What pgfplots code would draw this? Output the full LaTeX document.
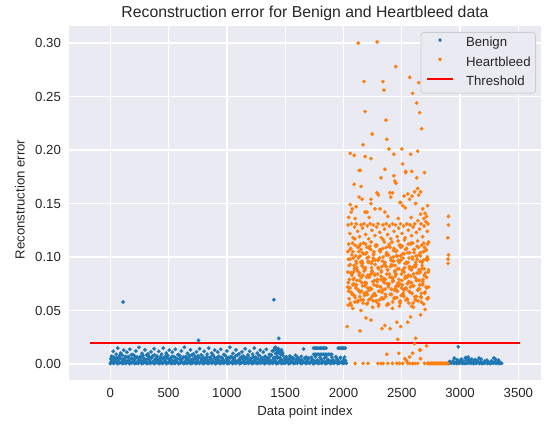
\documentclass[border=0pt]{standalone}
\usepackage{fontspec}
\setmainfont{Liberation Sans}
\usepackage{pgfplots}
\pgfplotsset{compat=1.18}
\definecolor{sbblue}{HTML}{1F77B4}
\definecolor{sborange}{HTML}{FF7F0E}
\definecolor{axbg}{HTML}{EAEAF2}
\definecolor{textgray}{HTML}{262626}
\definecolor{legedge}{HTML}{CCCCD0}
\begin{document}
\begin{tikzpicture}
\useasboundingbox (-69pt,-46pt) rectangle (479pt,380pt);
\begin{axis}[
  at={(0,0)}, anchor=south west, scale only axis,
  width=472pt, height=354pt,
  xmin=-354, xmax=3694, ymin=-0.015, ymax=0.316,
  axis background/.style={fill=axbg},
  axis line style={draw=none},
  grid=major, grid style={white, line width=1.3pt},
  major tick length=0pt,
  xtick={0,500,1000,1500,2000,2500,3000,3500},
  ytick={0,0.05,0.10,0.15,0.20,0.25,0.30},
  scaled x ticks=false, scaled y ticks=false,
  /pgf/number format/assume math mode=true,
  /pgf/number format/1000 sep={},
  tick label style={font=\fontsize{13.2}{15}\selectfont, text=textgray},
  xticklabel style={yshift=-4.6pt},
  yticklabel style={xshift=-4.6pt, /pgf/number format/fixed, /pgf/number format/fixed zerofill, /pgf/number format/precision=2},
  label style={font=\fontsize{13.2}{15}\selectfont, text=textgray},
  xlabel={Data point index},
  ylabel={Reconstruction error},
  xlabel style={at={(axis description cs:0.5,-0.09)}, anchor=center},
  ylabel style={at={(axis description cs:-0.104,0.51)}, anchor=center},
  title={Reconstruction error for Benign and Heartbleed data},
  title style={at={(axis description cs:0.5,1)}, anchor=base, yshift=2pt, font=\fontsize{15.8}{18}\selectfont, text=textgray},
  legend cell align=left,
  legend style={at={(rel axis cs:1,1)}, anchor=north east, xshift=-5pt, yshift=-6pt,
    draw=legedge, line width=0.8pt, fill=axbg, rounded corners=3pt,
    font=\fontsize{13.2}{15}\selectfont, text=textgray,
    row sep=7pt, column sep=12pt, inner xsep=5pt, inner ysep=5pt,
    nodes={inner sep=0pt, text height=9.5pt, text depth=2.8pt}},
]
% Benign
\addplot[only marks, mark=*, mark size=1.7pt, color=sbblue,
  legend image code/.code={\fill[sbblue] (13pt,3.5pt) circle (1.4pt);}] coordinates {
(0,.0004)(15,.0011)(30,.0006)(45,.0016)(60,.0003)(75,.0009)(90,.0013)
(105,.0004)(120,.0011)(135,.0006)(150,.0016)(165,.0003)(180,.0009)(195,.0013)
(210,.0004)(225,.0011)(240,.0006)(255,.0016)(270,.0003)(285,.0009)(300,.0013)
(315,.0004)(330,.0011)(345,.0006)(360,.0016)(375,.0003)(390,.0009)(405,.0013)
(420,.0004)(435,.0011)(450,.0006)(465,.0016)(480,.0003)(495,.0009)(510,.0013)
(525,.0004)(540,.0011)(555,.0006)(570,.0016)(585,.0003)(600,.0009)(615,.0013)
(630,.0004)(645,.0011)(660,.0006)(675,.0016)(690,.0003)(705,.0009)(720,.0013)
(735,.0004)(750,.0011)(765,.0006)(780,.0016)(795,.0003)(810,.0009)(825,.0013)
(840,.0004)(855,.0011)(870,.0006)(885,.0016)(900,.0003)(915,.0009)(930,.0013)
(945,.0004)(960,.0011)(975,.0006)(990,.0016)(1005,.0003)(1020,.0009)(1035,.0013)
(1050,.0004)(1065,.0011)(1080,.0006)(1095,.0016)(1110,.0003)(1125,.0009)(1140,.0013)
(1155,.0004)(1170,.0011)(1185,.0006)(1200,.0016)(1215,.0003)(1230,.0009)(1245,.0013)
(1260,.0004)(1275,.0011)(1290,.0006)(1305,.0016)(1320,.0003)(1335,.0009)(1350,.0013)
(1365,.0004)(1380,.0011)(1395,.0006)(1410,.0016)(1425,.0003)(1440,.0009)(1455,.0013)
(1470,.0004)(1485,.0011)(1500,.0006)(1515,.0016)(1530,.0003)(1545,.0009)(1560,.0013)
(1575,.0004)(1590,.0011)(1605,.0006)(1620,.0016)(1635,.0003)(1650,.0009)(1665,.0013)
(1680,.0004)(1695,.0011)(1710,.0006)(1725,.0016)(1740,.0003)(1755,.0009)(1770,.0013)
(1785,.0004)(1800,.0011)(1815,.0006)(1830,.0016)(1845,.0003)(1860,.0009)(1875,.0013)
(1890,.0004)(1905,.0011)(1920,.0006)(1935,.0016)(1950,.0003)(1965,.0009)(1980,.0013)
(1995,.0004)(2010,.0011)(2025,.0006)
(8,.0024)(23,.0036)(38,.0019)(53,.0047)(68,.0029)(83,.0055)(98,.0022)(113,.0041)(128,.0031)
(143,.0024)(158,.0036)(173,.0019)(188,.0047)(203,.0029)(218,.0055)(233,.0022)(248,.0041)(263,.0031)
(278,.0024)(293,.0036)(308,.0019)(323,.0047)(338,.0029)(353,.0055)(368,.0022)(383,.0041)(398,.0031)
(413,.0024)(428,.0036)(443,.0019)(458,.0047)(473,.0029)(488,.0055)(503,.0022)(518,.0041)(533,.0031)
(548,.0024)(563,.0036)(578,.0019)(593,.0047)(608,.0029)(623,.0055)(638,.0022)(653,.0041)(668,.0031)
(683,.0024)(698,.0036)(713,.0019)(728,.0047)(743,.0029)(758,.0055)(773,.0022)(788,.0041)(803,.0031)
(818,.0024)(833,.0036)(848,.0019)(863,.0047)(878,.0029)(893,.0055)(908,.0022)(923,.0041)(938,.0031)
(953,.0024)(968,.0036)(983,.0019)(998,.0047)(1013,.0029)(1028,.0055)(1043,.0022)(1058,.0041)(1073,.0031)
(1088,.0024)(1103,.0036)(1118,.0019)(1133,.0047)(1148,.0029)(1163,.0055)(1178,.0022)(1193,.0041)(1208,.0031)
(1223,.0024)(1238,.0036)(1253,.0019)(1268,.0047)(1283,.0029)(1298,.0055)(1313,.0022)(1328,.0041)(1343,.0031)
(1358,.0024)(1373,.0036)(1388,.0019)(1403,.0047)(1418,.0029)(1433,.0055)(1448,.0022)(1463,.0041)(1478,.0031)
(1493,.0024)(1508,.0036)(1523,.0019)(1538,.0047)(1553,.0029)(1568,.0055)(1583,.0022)(1598,.0041)(1613,.0031)
(1628,.0024)(1643,.0036)(1658,.0019)(1673,.0047)(1688,.0029)(1703,.0055)(1718,.0022)(1733,.0041)(1748,.0031)
(1763,.0024)(1778,.0036)(1793,.0019)(1808,.0047)(1823,.0029)(1838,.0055)(1853,.0022)(1868,.0041)(1883,.0031)
(1898,.0024)(1913,.0036)(1928,.0019)(1943,.0047)(1958,.0029)(1973,.0055)(1988,.0022)(2003,.0041)(2018,.0031)
(12,.0072)(25,.0118)(38,.0054)(51,.0091)(64,.0148)(77,.0063)(90,.0102)(103,.0081)(116,.0129)(129,.0058)
(142,.0110)(155,.0069)(168,.0137)(181,.0052)(194,.0088)(207,.0077)(220,.0121)(233,.0061)(246,.0156)(259,.0070)
(272,.0099)(285,.0055)(298,.0132)(311,.0083)(324,.0094)(337,.0060)(350,.0113)(363,.0074)(376,.0142)(389,.0050)
(402,.0072)(415,.0118)(428,.0054)(441,.0091)(454,.0148)(467,.0063)(480,.0102)(493,.0081)(506,.0129)(519,.0058)
(532,.0110)(545,.0069)(558,.0137)(571,.0052)(584,.0088)(597,.0077)(610,.0121)(623,.0061)(636,.0156)(649,.0070)
(662,.0099)(675,.0055)(688,.0132)(701,.0083)(714,.0094)(727,.0060)(740,.0113)(753,.0074)(766,.0142)(779,.0050)
(792,.0072)(805,.0118)(818,.0054)(831,.0091)(844,.0148)(857,.0063)(870,.0102)(883,.0081)(896,.0129)(909,.0058)
(922,.0110)(935,.0069)(948,.0137)(961,.0052)(974,.0088)(987,.0077)(1000,.0121)(1013,.0061)(1026,.0156)(1039,.0070)
(1052,.0099)(1065,.0055)(1078,.0132)(1091,.0083)(1104,.0094)(1117,.0060)(1130,.0113)(1143,.0074)(1156,.0142)(1169,.0050)
(1182,.0072)(1195,.0118)(1208,.0054)(1221,.0091)(1234,.0148)(1247,.0063)(1260,.0102)(1273,.0081)(1286,.0129)(1299,.0058)
(1312,.0110)(1325,.0069)(1338,.0137)(1351,.0052)(1364,.0088)(1377,.0077)(1390,.0121)(1403,.0061)(1416,.0156)(1429,.0070)
(1442,.0099)(1455,.0055)(1468,.0132)
(5,.0048)(30,.0065)(55,.0057)(80,.0079)(105,.0043)(130,.0070)(155,.0060)(180,.0085)
(205,.0048)(230,.0065)(255,.0057)(280,.0079)(305,.0043)(330,.0070)(355,.0060)(380,.0085)
(405,.0048)(430,.0065)(455,.0057)(480,.0079)(505,.0043)(530,.0070)(555,.0060)(580,.0085)
(605,.0048)(630,.0065)(655,.0057)(680,.0079)(705,.0043)(730,.0070)(755,.0060)(780,.0085)
(805,.0048)(830,.0065)(855,.0057)(880,.0079)(905,.0043)(930,.0070)(955,.0060)(980,.0085)
(1005,.0048)(1030,.0065)(1055,.0057)(1080,.0079)(1105,.0043)(1130,.0070)(1155,.0060)(1180,.0085)
(1205,.0048)(1230,.0065)(1255,.0057)(1280,.0079)(1305,.0043)(1330,.0070)(1355,.0060)(1380,.0085)
(1405,.0048)(1430,.0065)(1455,.0057)(1480,.0079)
(1400,.0125)(1410,.0150)(1418,.0098)(1425,.0135)(1432,.0112)(1440,.0145)(1448,.0105)(1455,.0128)(1462,.0090)(1470,.0118)(1478,.0100)
(1495,.0052)(1510,.0068)(1525,.0045)(1540,.0074)(1558,.0058)(1572,.0049)(1590,.0081)(1605,.0062)(1620,.0047)(1638,.0070)(1658,.0140)(1665,.0055)(1680,.0064)(1695,.0048)
(1743,.0148)(1755,.0148)(1767,.0148)(1779,.0148)(1791,.0148)(1803,.0148)(1815,.0148)(1827,.0148)(1839,.0148)(1851,.0148)
(1955,.0148)(1967,.0148)(1979,.0148)(1991,.0148)(2003,.0148)(2015,.0148)
(1745,.0090)(1759,.0090)(1773,.0090)(1787,.0090)(1801,.0090)(1815,.0090)(1829,.0090)(1843,.0090)(1857,.0090)(1871,.0090)(1885,.0090)(1899,.0090)
(1725,.0062)(1760,.0066)(1800,.0060)(1850,.0065)(1900,.0063)(1935,.0067)(1975,.0061)(2010,.0064)
(2900,.0004)(2912,.0010)(2924,.0007)(2936,.0014)(2948,.0005)(2960,.0012)
(2972,.0004)(2984,.0010)(2996,.0007)(3008,.0014)(3020,.0005)(3032,.0012)
(3044,.0004)(3056,.0010)(3068,.0007)(3080,.0014)(3092,.0005)(3104,.0012)
(3116,.0004)(3128,.0010)(3140,.0007)(3152,.0014)(3164,.0005)(3176,.0012)
(3188,.0004)(3200,.0010)(3212,.0007)(3224,.0014)(3236,.0005)(3248,.0012)
(3260,.0004)(3272,.0010)(3284,.0007)(3296,.0014)(3308,.0005)(3320,.0012)
(3332,.0004)(3344,.0010)(3356,.0007)
(2910,.0024)(2940,.0028)(2970,.0021)(3000,.0030)(3030,.0025)(3060,.0032)(3090,.0022)(3120,.0027)
(3150,.0030)(3180,.0023)(3210,.0026)(3240,.0021)(3270,.0029)(3300,.0024)(3330,.0027)
(2985,.016)(2950,.0055)(2975,.004)(3010,.0045)(3044,.0055)(3060,.005)(3080,.004)(3100,.0045)(3130,.004)
(3163,.0055)(3180,.0045)(3290,.0055)(3305,.0045)(3230,.0035)(3330,.0035)(3050,.006)(3070,.0065)
(110,.058)(1403,.060)(757,.022)(1445,.024)
};
\addlegendentry{Benign}
% Heartbleed
\addplot[only marks, mark=*, mark size=1.7pt, color=sborange,
  legend image code/.code={\fill[sborange] (13pt,3.5pt) circle (1.4pt);}] coordinates {
(2035,.072)(2042,.098)(2049,.061)(2056,.107)(2063,.085)(2070,.066)(2077,.113)(2084,.079)(2091,.092)(2098,.058)
(2105,.101)(2112,.074)(2119,.088)(2126,.069)(2133,.110)(2140,.063)(2147,.095)(2154,.081)(2161,.104)(2168,.057)
(2175,.090)(2182,.076)(2189,.112)(2196,.067)(2203,.099)(2210,.083)(2217,.060)(2224,.108)(2231,.071)(2238,.094)
(2245,.086)(2252,.064)(2259,.103)(2266,.078)(2273,.097)(2280,.059)(2287,.111)(2294,.073)(2301,.089)(2308,.068)
(2315,.105)(2322,.082)(2329,.062)(2336,.096)(2343,.077)(2350,.114)(2357,.070)(2364,.091)(2371,.084)(2378,.056)
(2385,.102)(2392,.075)(2399,.109)(2406,.065)(2413,.093)(2420,.080)(2427,.100)(2434,.061)(2441,.087)(2448,.072)
(2455,.106)(2462,.068)(2469,.097)(2476,.079)(2483,.058)(2490,.111)(2497,.084)(2504,.074)(2511,.099)(2518,.063)
(2525,.090)(2532,.107)(2539,.070)(2546,.081)(2553,.095)(2560,.057)(2567,.104)(2574,.076)(2581,.088)(2588,.066)
(2595,.113)(2602,.073)(2609,.092)(2616,.060)(2623,.101)(2630,.085)(2637,.069)(2644,.109)(2651,.078)(2658,.096)
(2665,.062)(2672,.089)(2679,.075)(2686,.105)(2693,.083)(2700,.067)(2707,.098)(2714,.071)(2721,.112)(2728,.086)
(2038,.086)(2045,.112)(2052,.071)(2059,.098)(2066,.067)(2073,.083)(2080,.105)(2087,.075)(2094,.089)(2101,.062)
(2108,.096)(2115,.078)(2122,.109)(2129,.069)(2136,.085)(2143,.101)(2150,.060)(2157,.092)(2164,.073)(2171,.113)
(2178,.066)(2185,.088)(2192,.076)(2199,.104)(2206,.057)(2213,.095)(2220,.081)(2227,.070)(2234,.107)(2241,.090)
(2248,.063)(2255,.099)(2262,.074)(2269,.084)(2276,.111)(2283,.058)(2290,.079)(2297,.097)(2304,.068)(2311,.106)
(2318,.072)(2325,.087)(2332,.061)(2339,.100)(2346,.080)(2353,.093)(2360,.065)(2367,.109)(2374,.075)(2381,.102)
(2388,.056)(2395,.084)(2402,.091)(2409,.070)(2416,.114)(2423,.077)(2430,.096)(2437,.062)(2444,.082)(2451,.105)
(2458,.068)(2465,.089)(2472,.073)(2479,.111)(2486,.059)(2493,.097)(2500,.078)(2507,.103)(2514,.064)(2521,.086)
(2528,.094)(2535,.071)(2542,.108)(2549,.060)(2556,.083)(2563,.099)(2570,.067)(2577,.112)(2584,.076)(2591,.090)
(2598,.057)(2605,.104)(2612,.081)(2619,.095)(2626,.063)(2633,.110)(2640,.069)(2647,.088)(2654,.074)(2661,.101)
(2668,.058)(2675,.092)(2682,.079)(2689,.113)(2696,.066)(2703,.085)(2710,.107)(2717,.061)(2724,.098)(2731,.072)
(2041,.076)(2048,.092)(2055,.071)(2062,.108)(2069,.085)(2076,.065)(2083,.099)(2090,.080)(2097,.117)(2104,.073)
(2111,.094)(2118,.087)(2125,.059)(2132,.105)(2139,.078)(2146,.112)(2153,.068)(2160,.096)(2167,.083)(2174,.103)
(2181,.064)(2188,.090)(2195,.075)(2202,.109)(2209,.071)(2216,.100)(2223,.082)(2230,.061)(2237,.114)(2244,.087)
(2251,.077)(2258,.102)(2265,.066)(2272,.093)(2279,.110)(2286,.073)(2293,.084)(2300,.098)(2307,.060)(2314,.107)
(2321,.079)(2328,.091)(2335,.069)(2342,.116)(2349,.076)(2356,.095)(2363,.063)(2370,.104)(2377,.088)(2384,.072)
(2391,.112)(2398,.081)(2405,.099)(2412,.065)(2419,.092)(2426,.078)(2433,.108)(2440,.086)(2447,.070)(2454,.101)
(2461,.074)(2468,.115)(2475,.089)(2482,.075)(2489,.101)(2496,.064)(2503,.110)(2510,.088)(2517,.069)(2524,.116)
(2531,.082)(2538,.095)(2545,.061)(2552,.104)(2559,.077)(2566,.091)(2573,.072)(2580,.113)(2587,.066)(2594,.098)
(2601,.084)(2608,.107)(2615,.060)(2622,.093)(2629,.079)(2636,.115)(2643,.070)(2650,.102)(2657,.086)(2664,.063)
(2671,.111)(2678,.074)(2685,.097)(2692,.089)(2699,.067)(2706,.106)(2713,.081)(2720,.100)(2727,.062)(2730,.114)
(2037,.105)(2044,.068)(2051,.079)(2058,.093)(2065,.055)(2072,.102)(2079,.074)(2086,.086)(2093,.064)(2100,.111)
(2107,.071)(2114,.090)(2121,.058)(2128,.099)(2135,.083)(2142,.067)(2149,.107)(2156,.076)(2163,.094)(2170,.060)
(2177,.087)(2184,.073)(2191,.103)(2198,.081)(2205,.065)(2212,.096)(2219,.069)(2226,.110)(2233,.084)(2240,.070)
(2247,.096)(2254,.059)(2261,.105)(2268,.083)(2275,.064)(2282,.111)(2289,.077)(2296,.090)(2303,.056)(2310,.099)
(2317,.072)(2324,.086)(2331,.067)(2338,.108)(2345,.061)(2352,.093)(2359,.079)(2366,.102)(2373,.055)(2380,.088)
(2387,.074)(2394,.110)(2401,.065)(2408,.097)(2415,.081)(2422,.058)(2429,.106)(2436,.069)(2443,.092)(2450,.084)
(2457,.062)(2464,.101)(2471,.076)(2478,.095)(2485,.057)(2492,.109)(2499,.071)(2506,.087)(2513,.066)(2520,.103)
(2527,.080)(2534,.060)(2541,.094)(2548,.075)(2555,.112)(2562,.068)(2569,.089)(2576,.082)(2583,.054)(2590,.100)
(2597,.073)(2604,.107)(2611,.063)(2618,.091)(2625,.078)(2632,.098)(2639,.059)(2646,.085)(2653,.070)(2660,.104)
(2667,.066)(2674,.095)(2681,.077)(2688,.056)(2695,.109)(2702,.082)(2709,.072)(2716,.097)(2723,.061)(2729,.088)
(2040,.130)(2055,.122)(2068,.131)(2082,.118)(2095,.128)(2110,.131)(2121,.124)(2138,.119)(2150,.130)(2163,.127)
(2177,.131)(2190,.121)(2204,.129)(2216,.117)(2229,.131)(2243,.125)(2256,.130)(2270,.120)(2284,.128)(2297,.131)
(2311,.123)(2325,.118)(2338,.130)(2352,.126)(2366,.131)(2379,.121)(2393,.129)(2406,.117)(2420,.131)(2434,.124)
(2447,.130)(2461,.119)(2474,.127)(2488,.131)(2502,.122)(2515,.129)(2529,.118)(2543,.131)(2556,.125)(2570,.130)
(2584,.120)(2597,.128)(2611,.131)(2625,.123)(2638,.134)(2652,.126)(2665,.131)(2679,.119)(2692,.129)(2706,.133)
(2719,.124)(2725,.131)
(2143,.181)(2321,.174)(2432,.176)(2440,.171)(2534,.179)(2628,.174)(2695,.179)(2092,.168)(2151,.166)(2449,.169)
(2636,.164)(2661,.161)(2134,.156)(2160,.154)(2236,.154)(2287,.160)(2300,.158)(2398,.160)(2405,.156)(2420,.160)
(2483,.151)(2491,.151)(2520,.157)(2552,.159)(2568,.154)(2588,.157)(2610,.161)(2645,.158)(2721,.148)(2058,.149)
(2066,.142)(2075,.145)(2109,.147)(2185,.142)(2202,.142)(2236,.150)(2270,.145)(2313,.145)(2355,.142)(2508,.148)
(2530,.146)(2619,.150)(2661,.140)(2680,.145)(2700,.141)(2712,.138)(2045,.137)(2100,.136)(2220,.137)(2380,.138)
(2470,.136)(2580,.137)(2690,.136)
(2126,.300)(2288,.301)(2449,.278)(2177,.264)(2338,.264)(2568,.268)(2645,.263)(2347,.256)(2593,.253)(2628,.244)
(2185,.236)(2653,.235)(2364,.228)(2670,.220)(2245,.215)(2372,.210)(2168,.205)(2389,.201)(2500,.201)(2058,.197)
(2092,.195)(2185,.194)(2236,.192)(2432,.196)(2576,.196)(2636,.199)(2508,.187)(2134,.181)(2355,.182)(2534,.180)
(2585,.180)
(2040,.055)(2150,.050)(2193,.043)(2236,.041)(2355,.036)(2330,.033)(2400,.033)(2457,.039)(2491,.035)(2551,.039)
(2576,.044)(2661,.046)(2032,.035)(2142,.031)(2466,.023)(2619,.024)(2610,.019)(2712,.017)(2661,.013)(2593,.010)
(2372,.009)(2474,.010)(2568,.0065)(2525,.005)(2542,.003)(2653,.013)(2661,.005)
(2080,.052)(2250,.053)(2300,.054)(2420,.052)(2480,.054)(2600,.053)(2700,.051)(2060,.057)(2200,.056)
(2100,.0005)(2168,.0005)(2210,.0005)(2295,.0005)(2321,.0005)(2380,.0005)(2457,.0005)(2508,.0005)(2551,.0005)
(2593,.0005)(2636,.0005)(2695,.0005)(2340,.0005)(2420,.0005)(2480,.0005)(2570,.0005)(2615,.0005)
(2720,.0005)(2727,.0005)(2734,.0005)(2741,.0005)(2748,.0005)(2755,.0005)(2762,.0005)(2769,.0005)(2776,.0005)
(2783,.0005)(2790,.0005)(2797,.0005)(2804,.0005)(2811,.0005)(2818,.0005)(2825,.0005)(2832,.0005)(2839,.0005)
(2846,.0005)(2853,.0005)(2860,.0005)(2867,.0005)(2874,.0005)(2881,.0005)(2888,.0005)(2895,.0005)
(2900,.138)(2900,.130)(2895,.118)(2900,.102)(2897,.098)(2897,.094)
};
\addlegendentry{Heartbleed}
% Threshold
\addplot[red, line width=2pt,
  legend image code/.code={\draw[red, line width=2pt] (0pt,3.5pt) -- (26pt,3.5pt);}] coordinates {(-170,0.02) (3510,0.02)};
\addlegendentry{Threshold}
\end{axis}
\end{tikzpicture}
\end{document}
